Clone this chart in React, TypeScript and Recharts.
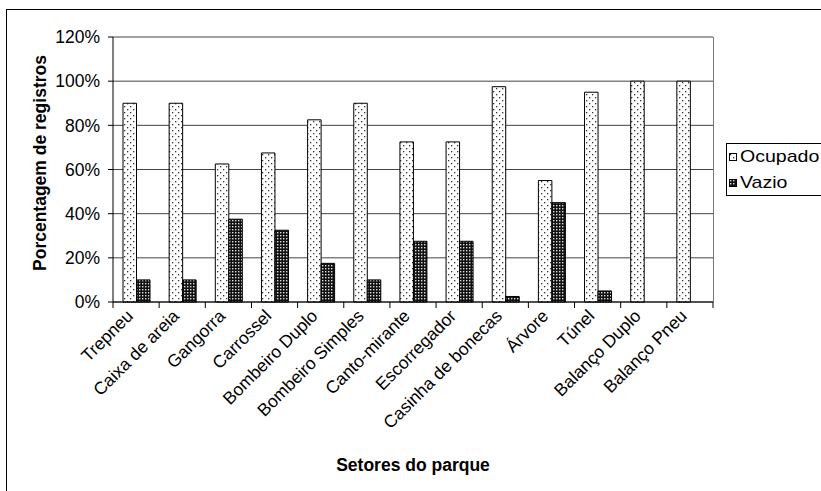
import { BarChart, Bar, XAxis, YAxis, CartesianGrid } from "recharts";

const setores = [
  "Trepneu", "Caixa de areia", "Gangorra", "Carrossel", "Bombeiro Duplo",
  "Bombeiro Simples", "Canto-mirante", "Escorregador", "Casinha de bonecas",
  "Árvore", "Túnel", "Balanço Duplo", "Balanço Pneu",
];
const ocupado = [90, 90, 62.5, 67.5, 82.5, 90, 72.5, 72.5, 97.5, 55, 95, 100, 100];
const vazio = [10, 10, 37.5, 32.5, 17.5, 10, 27.5, 27.5, 2.5, 45, 5, 0, 0];
const yTicks = [0, 20, 40, 60, 80, 100, 120];

const data = setores.map((s, i) => ({ setor: s, Ocupado: ocupado[i], Vazio: vazio[i] }));

const W = 821;
const H = 491;
const M = { top: 37, right: 108, bottom: 39, left: 0 };
const Y_W = 113;
const X_H = 150;
const BAND = (W - M.right - M.left - Y_W) / setores.length;
const FONT = "'Liberation Sans', Arial, sans-serif";

function SectorTick(props: any) {
  const { x, y, payload, index } = props;
  const half = BAND / 2;
  const ax = x - 2;
  const ay = y + 15;
  return (
    <g>
      <line x1={x - half} y1={y} x2={x - half} y2={y + 6} stroke="#000" />
      {index === setores.length - 1 && (
        <line x1={x + half} y1={y} x2={x + half} y2={y + 6} stroke="#000" />
      )}
      <text
        x={ax}
        y={ay}
        transform={`rotate(-45, ${ax}, ${ay})`}
        textAnchor="end"
        fontSize={17.5}
        fontFamily={FONT}
        fill="#000"
      >
        {payload.value}
      </text>
    </g>
  );
}

function Patterns() {
  return (
    <svg width={0} height={0} style={{ position: "absolute" }}>
      <defs>
        <pattern id="dots" width={6} height={6} patternUnits="userSpaceOnUse">
          <rect width={6} height={6} fill="#fff" />
          <rect x={1} y={1} width={1.3} height={1.3} fill="#333" />
          <rect x={4} y={4} width={1.3} height={1.3} fill="#333" />
        </pattern>
        <pattern id="grid" width={3} height={3} patternUnits="userSpaceOnUse">
          <rect width={3} height={3} fill="#111" />
          <rect x={1} y={1} width={1.4} height={1.4} fill="#ddd" />
        </pattern>
      </defs>
    </svg>
  );
}

export default function App() {
  const plotRight = W - M.right;
  const plotTop = M.top;
  const plotBottom = H - M.bottom - X_H;
  return (
    <div style={{ position: "absolute", left: 0, top: 0, width: W, height: H, background: "#fff", overflow: "hidden", fontFamily: FONT }}>
      <Patterns />
      <div style={{ position: "absolute", left: 6, top: 9, width: W + 20, height: H + 20, border: "1.5px solid #000" }} />
      <BarChart
        width={W}
        height={H}
        data={data}
        margin={M}
        barSize={13.5}
        barGap={0}
      >
        <CartesianGrid vertical={false} stroke="#444" />
        <XAxis
          dataKey="setor"
          height={X_H}
          interval={0}
          tickLine={false}
          tickSize={0}
          tickMargin={0}
          axisLine={{ stroke: "#000" }}
          tick={<SectorTick />}
        />
        <YAxis
          width={Y_W}
          domain={[0, 120]}
          ticks={yTicks}
          tickFormatter={(v: number) => `${v}%`}
          tick={{ fontSize: 17.5, fill: "#000", fontFamily: FONT }}
          tickSize={5}
          tickMargin={8}
          tickLine={{ stroke: "#000" }}
          axisLine={{ stroke: "#000" }}
        />
        <Bar dataKey="Ocupado" fill="url(#dots)" stroke="#000" strokeWidth={1} isAnimationActive={false} />
        <Bar dataKey="Vazio" fill="url(#grid)" stroke="#000" strokeWidth={1} isAnimationActive={false} />
      </BarChart>
      <div style={{ position: "absolute", left: plotRight, top: plotTop, width: 0, height: plotBottom - plotTop, borderLeft: "1px solid #777" }} />
      <div
        style={{
          position: "absolute", left: 40, top: (plotTop + plotBottom) / 2 - 7,
          transform: "translate(-50%, -50%) rotate(-90deg)", whiteSpace: "nowrap",
          fontWeight: "bold", fontSize: 17.5,
        }}
      >
        Porcentagem de registros
      </div>
      <div style={{ position: "absolute", left: 413, top: 465, transform: "translate(-50%, -50%)", whiteSpace: "nowrap", fontWeight: "bold", fontSize: 17.5 }}>
        Setores do parque
      </div>
      <div style={{ position: "absolute", left: 726, top: 143, width: 120, height: 51, border: "1px solid #000", background: "#fff" }}>
        {[{ name: "Ocupado", fill: "url(#dots)" }, { name: "Vazio", fill: "url(#grid)" }].map((e, i) => (
          <div key={e.name} style={{ position: "absolute", left: 2, top: 2 + i * 26, display: "flex", alignItems: "center", fontSize: 17, lineHeight: "22px" }}>
            <svg width={8} height={8} style={{ marginRight: 3 }}>
              <rect x={0.5} y={0.5} width={7} height={7} fill={e.fill} stroke="#000" />
            </svg>
            <span style={{ display: "inline-block", transform: "scaleX(1.15)", transformOrigin: "left center" }}>{e.name}</span>
          </div>
        ))}
      </div>
    </div>
  );
}
